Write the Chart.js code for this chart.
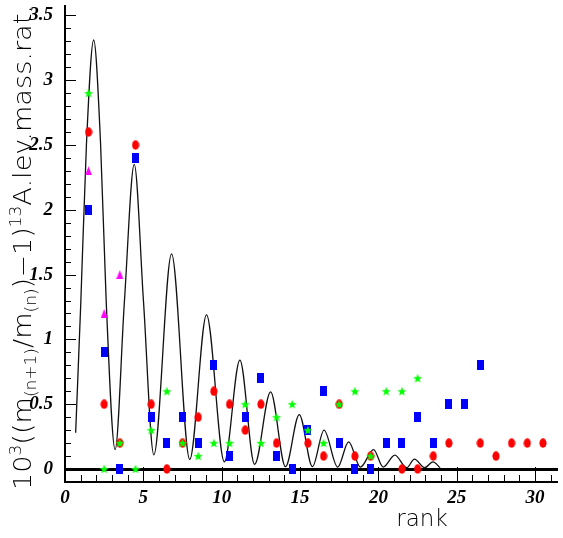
<!DOCTYPE html>
<html>
<head>
<meta charset="utf-8">
<script src="https://cdn.jsdelivr.net/npm/chart.js@4.4.1/dist/chart.umd.min.js"></script>
<style>
  html, body { margin: 0; padding: 0; background: #fff; }
  canvas { display: block; }
</style>
</head>
<body>
<canvas id="rankChart" width="563" height="538"></canvas>
<script>
// level mass ratios by rank, one pair of arrays per marker set
const circleRank = [1.5, 2.5, 3.5, 4.5, 5.5, 6.5, 7.5, 8.5, 9.5, 10.5, 11.5, 12.5, 13.5, 15.5, 16.5, 17.5, 18.5, 19.5, 21.5, 22.5, 23.5, 24.5, 26.5, 27.5, 28.5, 29.5, 30.5];
const circleRatio = [2.6, 0.5, 0.2, 2.5, 0.5, 0, 0.2, 0.4, 0.6, 0.5, 0.3, 0.5, 0.2, 0.2, 0.1, 0.5, 0.1, 0.1, 0, 0, 0.1, 0.2, 0.2, 0.1, 0.2, 0.2, 0.2];

const squareRank = [1.5, 2.5, 3.5, 4.5, 5.5, 6.5, 7.5, 8.5, 9.5, 10.5, 11.5, 12.5, 13.5, 14.5, 15.5, 16.5, 17.5, 18.5, 19.5, 20.5, 21.5, 22.5, 23.5, 24.5, 25.5, 26.5];
const squareRatio = [2.0, 0.9, 0, 2.4, 0.4, 0.2, 0.4, 0.2, 0.8, 0.1, 0.4, 0.7, 0.1, 0, 0.3, 0.6, 0.2, 0, 0, 0.2, 0.2, 0.4, 0.2, 0.5, 0.5, 0.8];

const starRank = [1.5, 2.5, 3.5, 4.5, 5.5, 6.5, 7.5, 8.5, 9.5, 10.5, 11.5, 12.5, 13.5, 14.5, 15.5, 16.5, 17.5, 18.5, 19.5, 20.5, 21.5, 22.5];
const starRatio = [2.9, 0, 0.2, 0, 0.3, 0.6, 0.2, 0.1, 0.2, 0.2, 0.5, 0.2, 0.4, 0.5, 0.3, 0.2, 0.5, 0.6, 0.1, 0.6, 0.6, 0.7];

const triangleRank = [1.5, 2.5, 3.5];
const triangleRatio = [2.3, 1.2, 1.5];

// damped oscillation curve, read point by point
const curveRank = [0.68, 1.01, 1.37, 1.83, 2.27, 2.63, 3.2, 3.79, 4.42, 5.01, 5.67, 6.8, 7.96, 9.03, 10.17, 11.16, 12.1, 13.12, 14.07, 14.95, 15.79, 16.53, 17.4, 18.1, 18.85, 19.69, 20.3, 21.05, 21.8, 22.3, 22.95, 23.48, 23.94];
const curveRatio = [0.28, 1.29, 2.51, 3.31, 2.51, 1.29, 0.15, 1.29, 2.35, 1.29, 0.11, 1.66, 0.074, 1.19, 0.056, 0.84, 0.036, 0.595, 0.018, 0.42, 0.018, 0.30, 0.015, 0.21, 0.015, 0.15, 0.015, 0.107, 0.01, 0.076, 0.01, 0.056, 0.01];

const xTickValues = [0, 5, 10, 15, 20, 25, 30];
const yTickValues = [0, 0.5, 1, 1.5, 2, 2.5, 3, 3.5];
const xTitle = 'rank';
// [text, shift]: 0 normal, 1 superscript, -1 subscript
const yTitleParts = [['10', 0], ['3', 1], ['((m', 0], ['(n+1)', -1], ['/m', 0], ['(n)', -1], [')\u22121)', 0], ['13', 1], ['A.lev.mass.rat.', 0]];

function pairs(xs, ys) {
  return xs.map((x, i) => ({ x, y: ys[i] }));
}

function marker(w, h, paint) {
  const c = document.createElement('canvas');
  c.width = w;
  c.height = h;
  paint(c.getContext('2d'), w, h);
  return c;
}

const redEllipse = marker(8, 10, (g, w, h) => {
  g.fillStyle = '#ff0000';
  g.beginPath();
  g.ellipse(w / 2, h / 2, 3.6, 4.7, 0, 0, Math.PI * 2);
  g.fill();
});
const blueRect = marker(7, 10, (g, w, h) => {
  g.fillStyle = '#0000ff';
  g.fillRect(0, 0, w, h);
});
const greenStar = marker(10, 10, (g, w, h) => {
  g.fillStyle = '#00ff00';
  g.beginPath();
  for (let i = 0; i < 10; i++) {
    const r = i % 2 ? 2 : 4.8;
    const a = -Math.PI / 2 + i * Math.PI / 5;
    const px = w / 2 + r * Math.cos(a), py = h / 2 + 0.4 + r * Math.sin(a);
    i ? g.lineTo(px, py) : g.moveTo(px, py);
  }
  g.closePath();
  g.fill();
});
const magentaTri = marker(7, 9, (g, w, h) => {
  g.fillStyle = '#ff00ff';
  g.beginPath();
  g.moveTo(w / 2, 0);
  g.lineTo(w, h);
  g.lineTo(0, h);
  g.closePath();
  g.fill();
});

const tickFont = { family: 'Liberation Serif', size: 19, style: 'italic', weight: 'bold' };
const titleFamily = '"DejaVu Sans"';

// frame, inward ticks, zero line and axis titles
const framePlugin = {
  id: 'frame',
  beforeDatasetsDraw(chart) {
    const { ctx, chartArea: a, scales: { y } } = chart;
    const y0 = Math.round(y.getPixelForValue(0)) + 0.5;
    ctx.save();
    ctx.strokeStyle = '#000';
    ctx.lineWidth = 3;
    ctx.beginPath();
    ctx.moveTo(a.left, y0);
    ctx.lineTo(a.right, y0);
    ctx.stroke();
    ctx.restore();
  },
  afterDraw(chart) {
    const { ctx, chartArea: a, scales: { x, y } } = chart;
    ctx.save();
    ctx.strokeStyle = '#000';
    ctx.lineWidth = 1;
    ctx.beginPath();
    for (let k = 0; k <= 35; k++) {
      const py = Math.round(y.getPixelForValue(k / 10)) + 0.5;
      const len = k % 5 === 0 ? 11 : 6;
      ctx.moveTo(a.left, py);
      ctx.lineTo(a.left + len, py);
    }
    for (let k = 0; k <= 31; k++) {
      const px = Math.round(x.getPixelForValue(k)) + 0.5;
      const len = k % 5 === 0 ? 15 : 7;
      ctx.moveTo(px, a.bottom);
      ctx.lineTo(px, a.bottom - len);
    }
    ctx.stroke();

    ctx.lineWidth = 2;
    ctx.beginPath();
    ctx.moveTo(a.left, a.top);
    ctx.lineTo(a.left, a.bottom);
    ctx.lineTo(a.right, a.bottom);
    ctx.stroke();

    ctx.fillStyle = '#000';
    ctx.font = '200 23px ' + titleFamily;
    ctx.textAlign = 'center';
    ctx.textBaseline = 'alphabetic';
    ctx.fillText(xTitle, 422, 526);

    // rotated y title with super/subscripts
    const size = 24;
    const small = Math.round(size * 0.62);
    const fontFor = (s) => '200 ' + (s ? small : size) + 'px ' + titleFamily;
    const widths = yTitleParts.map(([t, s]) => {
      ctx.font = fontFor(s);
      return ctx.measureText(t).width;
    });
    const total = widths.reduce((p, w) => p + w, 0);
    const span = 485;
    ctx.translate(31, 247.5);
    ctx.rotate(-Math.PI / 2);
    ctx.scale(span / total, 1);
    ctx.textAlign = 'left';
    let cx = -total / 2;
    yTitleParts.forEach(([t, s], i) => {
      ctx.font = fontFor(s);
      const dy = s === 1 ? -size * 0.42 : s === -1 ? size * 0.22 : 0;
      ctx.fillText(t, cx, dy);
      cx += widths[i];
    });
    ctx.restore();
  }
};

new Chart(document.getElementById('rankChart'), {
  type: 'scatter',
  data: {
    datasets: [
      {
        type: 'line',
        data: pairs(curveRank, curveRatio),
        borderColor: '#111',
        borderWidth: 1.3,
        pointRadius: 0,
        cubicInterpolationMode: 'monotone',
        fill: false,
        order: 5
      },
      { data: pairs(circleRank, circleRatio), pointStyle: redEllipse, order: 4 },
      { data: pairs(squareRank, squareRatio), pointStyle: blueRect, order: 3 },
      { data: pairs(triangleRank, triangleRatio), pointStyle: magentaTri, order: 2 },
      { data: pairs(starRank, starRatio), pointStyle: greenStar, order: 1 }
    ]
  },
  options: {
    responsive: false,
    animation: false,
    layout: { padding: 0 },
    plugins: { legend: { display: false }, tooltip: { enabled: false } },
    scales: {
      x: {
        type: 'linear',
        min: 0,
        max: 31.46,
        grid: { display: false, drawTicks: false },
        border: { display: false },
        ticks: { font: tickFont, color: '#000', padding: 5, maxRotation: 0, callback: (v) => String(v) },
        afterBuildTicks: (s) => { s.ticks = xTickValues.map(v => ({ value: v })); },
        afterFit: (s) => { s.height = 56; s.paddingLeft = 0; s.paddingRight = 0; }
      },
      y: {
        min: -0.1,
        max: 3.58,
        grid: { display: false, drawTicks: false },
        border: { display: false },
        ticks: { font: tickFont, color: '#000', padding: 12, callback: (v) => String(v) },
        afterBuildTicks: (s) => { s.ticks = yTickValues.map(v => ({ value: v })); },
        afterFit: (s) => { s.width = 65; s.paddingTop = 0; s.paddingBottom = 0; }
      }
    }
  },
  plugins: [framePlugin]
});
</script>
</body>
</html>
